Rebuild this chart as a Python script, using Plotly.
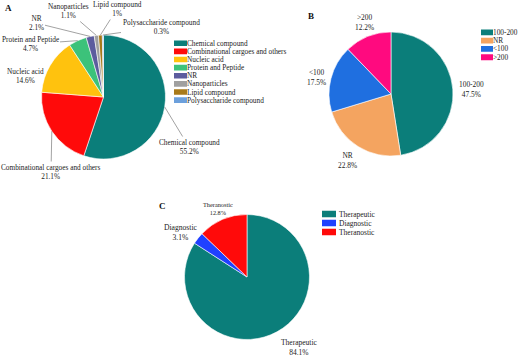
import math
import plotly.graph_objects as go

# ---- Data ----
a_labels = ["Chemical compound", "Combinational cargoes and others", "Nucleic acid",
            "Protein and Peptide", "NR", "Nanoparticles", "Lipid compound",
            "Polysaccharide compound"]
a_values = [55.2, 21.1, 14.6, 4.7, 2.1, 1.1, 1.0, 0.3]
a_colors = ["#0B7E7A", "#FF0A0A", "#FFC20E", "#3CC27A", "#5C5C9E", "#A0A0A0",
            "#A87A1A", "#6CA0DC"]

b_labels = ["100-200", "NR", "<100", ">200"]
b_values = [47.5, 22.8, 17.5, 12.2]
b_colors = ["#0B7E7A", "#F4A460", "#1F6FE0", "#FF0A7F"]

c_labels = ["Therapeutic", "Diagnostic", "Theranostic"]
c_values = [84.1, 3.1, 12.8]
c_colors = ["#0B7E7A", "#2040FF", "#FF0A0A"]

W, H = 520, 356
FONT = "Liberation Serif"
TXT = "#222"

# label placement (pixel centres of the label blocks; layout only)
a_label_pos = [(189, 147), (51, 172), (25, 76), (30, 44), (36, 23), (68, 11),
               (117, 9), (161, 27)]
a_label_arrow = [True, True, False, True, True, True, True, True]
b_label_pos = [(471, 89), (347, 160), (316, 77), (364, 22)]
c_label_pos = [(299, 347), (181, 232), (218, 208)]
c_label_size = [7.5, 7.6, 6.3]


def px(x0, x1):
    return [x0 / W, x1 / W]


def py(top, bottom):
    return [(H - bottom) / H, (H - top) / H]


fig = go.Figure()


def add_pie(labels, values, colors, cx, cy, r):
    fig.add_trace(go.Pie(
        labels=labels, values=values, sort=False, direction="clockwise", rotation=0,
        marker=dict(colors=colors, line=dict(color="white", width=0.6)),
        domain=dict(x=px(cx - r, cx + r), y=py(cy - r, cy + r)),
        textinfo="none", showlegend=False, hoverinfo="label+value", automargin=False,
    ))


def add_labels(labels, values, cx, cy, r, positions, arrows, sizes):
    tot = sum(values)
    cum = 0.0
    for i, (lab, v, (lx, ly)) in enumerate(zip(labels, values, positions)):
        th = 2 * math.pi * (cum + v / 2) / tot
        cum += v
        sx = cx + r * math.sin(th)
        sy = cy - r * math.cos(th)
        size = sizes[i] if isinstance(sizes, list) else sizes
        txt = "%s<br>%s%%" % (lab, "%g" % v)
        if arrows[i]:
            fig.add_annotation(
                text=txt, x=sx / W, y=(H - sy) / H, xref="paper", yref="paper",
                showarrow=True, arrowhead=0, arrowwidth=0.8, arrowcolor="#8a8a8a",
                ax=lx - sx, ay=ly - sy, axref="pixel", ayref="pixel",
                xanchor="center", yanchor="middle",
                font=dict(family=FONT, size=size, color=TXT), align="center")
        else:
            fig.add_annotation(
                text=txt, x=lx / W, y=(H - ly) / H, xref="paper", yref="paper",
                showarrow=False, xanchor="center", yanchor="middle",
                font=dict(family=FONT, size=size, color=TXT), align="center")


A_G = (103.5, 97, 62)
B_G = (391, 94, 62)
C_G = (247, 277, 62.5)
add_pie(a_labels, a_values, a_colors, *A_G)
add_pie(b_labels, b_values, b_colors, *B_G)
add_pie(c_labels, c_values, c_colors, *C_G)

add_labels(a_labels, a_values, *A_G, a_label_pos, a_label_arrow, 7.3)
add_labels(b_labels, b_values, *B_G, b_label_pos, [False] * 4, 7.4)
add_labels(c_labels, c_values, *C_G, c_label_pos, [False] * 3, c_label_size)


# ---- legends drawn as swatch bars on hidden axes ----
def add_legend(idx, labels, colors, x0, x1, ytop, ybot, fsize):
    xa = "x%d" % idx
    ya = "y%d" % idx
    fig.add_trace(go.Bar(
        y=labels, x=[1] * len(labels), orientation="h",
        marker=dict(color=colors, line=dict(width=0)), width=0.7,
        text=labels, textposition="outside", cliponaxis=False, constraintext="none",
        textfont=dict(family=FONT, size=fsize, color=TXT),
        xaxis=xa, yaxis=ya, showlegend=False, hoverinfo="skip",
    ))
    fig.update_layout(**{
        "xaxis%d" % idx: dict(domain=px(x0, x1), range=[0, 1], visible=False,
                              anchor=ya, fixedrange=True),
        "yaxis%d" % idx: dict(domain=py(ytop, ybot), autorange="reversed",
                              visible=False, anchor=xa, type="category",
                              fixedrange=True),
    })


add_legend(2, a_labels, a_colors, 174, 187, 39.2, 104.2, 7.3)
add_legend(3, b_labels, b_colors, 481, 493, 28.2, 61.4, 7.3)
add_legend(4, c_labels, c_colors, 322, 336, 209.5, 236.5, 7.5)

# panel letters
for letter, x, y in [("A", 8, 8), ("B", 311, 16), ("C", 162, 206)]:
    fig.add_annotation(text="<b>%s</b>" % letter, x=x / W, y=(H - y) / H,
                       xref="paper", yref="paper", showarrow=False,
                       xanchor="center", yanchor="middle",
                       font=dict(family=FONT, size=9, color="#111"))

fig.update_layout(
    width=W, height=H, margin=dict(l=0, r=0, t=0, b=0, autoexpand=False),
    paper_bgcolor="white", plot_bgcolor="rgba(0,0,0,0)",
    bargap=0.3,
)

fig.write_html("out.html",
               config={"displayModeBar": False},
               post_script="document.body.style.margin='0';"
                           "document.body.style.overflow='hidden';")
